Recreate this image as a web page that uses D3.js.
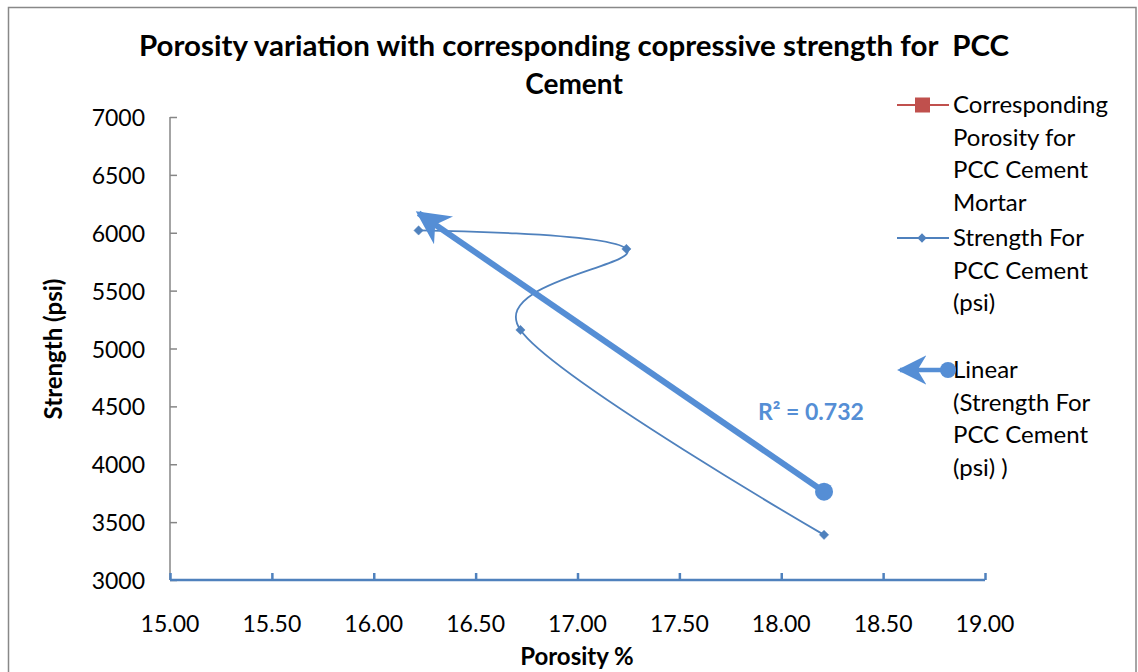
<!DOCTYPE html>
<html><head><meta charset="utf-8">
<script src="https://cdn.jsdelivr.net/npm/d3@7"></script>
<style>body{margin:0;background:#fff}svg{display:block}text{font-family:Lato,"Open Sans",sans-serif;white-space:pre}</style>
</head><body>
<svg id="c" width="1138" height="672"></svg>
<script>
const porosity = [16.22, 17.24, 16.72, 18.21];
const strength = [6020, 5860, 5160, 3390];
const xTicks = [15.0, 15.5, 16.0, 16.5, 17.0, 17.5, 18.0, 18.5, 19.0];
const yTicks = [3000, 3500, 4000, 4500, 5000, 5500, 6000, 6500, 7000];
const titleLines = ["Porosity variation with corresponding copressive strength for  PCC", "Cement"];
const legendItems = [
  ["Corresponding", "Porosity for", "PCC Cement", "Mortar"],
  ["Strength For", "PCC Cement", "(psi)"],
  ["Linear", "(Strength For", "PCC Cement", "(psi) )"]
];
const r2Label = "R² = 0.732";

const svg = d3.select("#c");
const blue = "#4F81BD", trend = "#558ED5", red = "#C0504D";
svg.append("rect").attr("x", 8.5).attr("y", 7.5).attr("width", 1127.5).attr("height", 700)
  .attr("fill", "none").attr("stroke", "#888").attr("stroke-width", 1.5);

const x = d3.scaleLinear().domain([15, 19]).range([170, 985]);
const y = d3.scaleLinear().domain([3000, 7000]).range([580, 117]);

// title
const tt = svg.append("g").selectAll("text").data(titleLines).join("text")
  .attr("x", 574).attr("y", (d, i) => 56 + i * 38).attr("text-anchor", "middle")
  .attr("font-size", 28).attr("font-weight", "bold").text(d => d);
tt.filter((d, i) => i === 0).attr("textLength", 870).attr("lengthAdjust", "spacingAndGlyphs");

// y axis
const ya = svg.append("g").attr("transform", "translate(170,0)")
  .call(d3.axisRight(y).tickValues(yTicks).tickSize(7).tickFormat(""));
ya.select(".domain").attr("stroke", "#868686").attr("stroke-width", 1.5).attr("d", "M0,117V580");
ya.selectAll(".tick line").attr("stroke", "#868686").attr("stroke-width", 1.5);
svg.append("g").selectAll("text").data(yTicks).join("text")
  .attr("x", 145).attr("y", d => y(d) + 9).attr("text-anchor", "end").attr("font-size", 23)
  .text(d => d);

// x axis
const xa = svg.append("g").attr("transform", "translate(0,580)")
  .call(d3.axisTop(x).tickValues(xTicks).tickSize(7).tickFormat(""));
xa.select(".domain").attr("stroke", blue).attr("stroke-width", 2.5).attr("d", "M170,0H985");
xa.selectAll(".tick line").attr("stroke", blue).attr("stroke-width", 2.5);
svg.append("g").selectAll("text").data(xTicks).join("text")
  .attr("x", d => x(d)).attr("y", 632).attr("text-anchor", "middle").attr("font-size", 23)
  .text(d => d.toFixed(2));

// axis titles
svg.append("text").attr("x", 577).attr("y", 665).attr("text-anchor", "middle")
  .attr("font-size", 24).attr("font-weight", "bold").text("Porosity %");
svg.append("text").attr("transform", "translate(62,349) rotate(-90)").attr("text-anchor", "middle")
  .attr("font-size", 24).attr("font-weight", "bold").text("Strength (psi)");

// series
const pts = porosity.map((p, i) => [p, strength[i]]);
const line = d3.line().x(d => x(d[0])).y(d => y(d[1])).curve(d3.curveCardinal.tension(0));
svg.append("path").attr("d", line(pts)).attr("fill", "none").attr("stroke", blue).attr("stroke-width", 1.8);
svg.append("g").selectAll("path").data(pts).join("path")
  .attr("transform", d => `translate(${x(d[0])},${y(d[1])})`)
  .attr("d", d3.symbol(d3.symbolDiamond2, 55)).attr("fill", blue).attr("stroke", blue).attr("stroke-width", 0.5);

// trendline
const mx = d3.mean(porosity), my = d3.mean(strength);
const sxy = d3.sum(pts, d => (d[0] - mx) * (d[1] - my));
const sxx = d3.sum(pts, d => (d[0] - mx) ** 2);
const slope = sxy / sxx, icpt = my - slope * mx;
const x0 = d3.min(porosity), x1 = d3.max(porosity);
const defs = svg.append("defs");
defs.append("marker").attr("id", "arr").attr("viewBox", "0 0 10 10").attr("refX", 9).attr("refY", 5)
  .attr("markerWidth", 6).attr("markerHeight", 5.6).attr("orient", "auto-start-reverse")
  .attr("markerUnits", "strokeWidth")
  .append("path").attr("d", "M0,0L10,5L0,10L3,5Z").attr("fill", trend);
defs.append("marker").attr("id", "arr2").attr("viewBox", "0 0 10 10").attr("refX", 9).attr("refY", 5)
  .attr("markerWidth", 6.5).attr("markerHeight", 6.5).attr("orient", "auto")
  .attr("markerUnits", "strokeWidth")
  .append("path").attr("d", "M0,0L10,5L0,10L3,5Z").attr("fill", trend);
const tx0 = x(x0), ty0 = y(icpt + slope * x0), tx1 = x(x1), ty1 = y(icpt + slope * x1);
svg.append("line").attr("x1", tx1).attr("y1", ty1).attr("x2", tx0).attr("y2", ty0)
  .attr("stroke", trend).attr("stroke-width", 6).attr("marker-end", "url(#arr)");
svg.append("circle").attr("cx", tx1).attr("cy", ty1).attr("r", 9).attr("fill", trend);
svg.append("text").attr("x", 758).attr("y", 420).attr("font-size", 23).attr("font-weight", "bold")
  .attr("fill", trend).text(r2Label);

// legend
const lg = svg.append("g");
const lineH = 32.6;
const starts = [105, 238, 370];
legendItems.forEach((lines, k) => {
  lg.append("g").selectAll("text").data(lines).join("text")
    .attr("x", 953).attr("y", (d, i) => starts[k] + 8 + i * lineH).attr("font-size", 24).text(d => d);
});
lg.append("line").attr("x1", 897).attr("x2", 949).attr("y1", 105).attr("y2", 105).attr("stroke", red).attr("stroke-width", 2);
lg.append("rect").attr("x", 915).attr("y", 97.5).attr("width", 15).attr("height", 15).attr("fill", red);
lg.append("line").attr("x1", 897).attr("x2", 949).attr("y1", 238).attr("y2", 238).attr("stroke", blue).attr("stroke-width", 1.8);
lg.append("path").attr("transform", "translate(922,238)").attr("d", d3.symbol(d3.symbolDiamond2, 55)).attr("fill", blue);
lg.append("line").attr("x1", 948).attr("x2", 900).attr("y1", 370).attr("y2", 370)
  .attr("stroke", trend).attr("stroke-width", 4.5).attr("marker-end", "url(#arr2)");
lg.append("circle").attr("cx", 948).attr("cy", 370).attr("r", 8).attr("fill", trend);
</script>
</body></html>
